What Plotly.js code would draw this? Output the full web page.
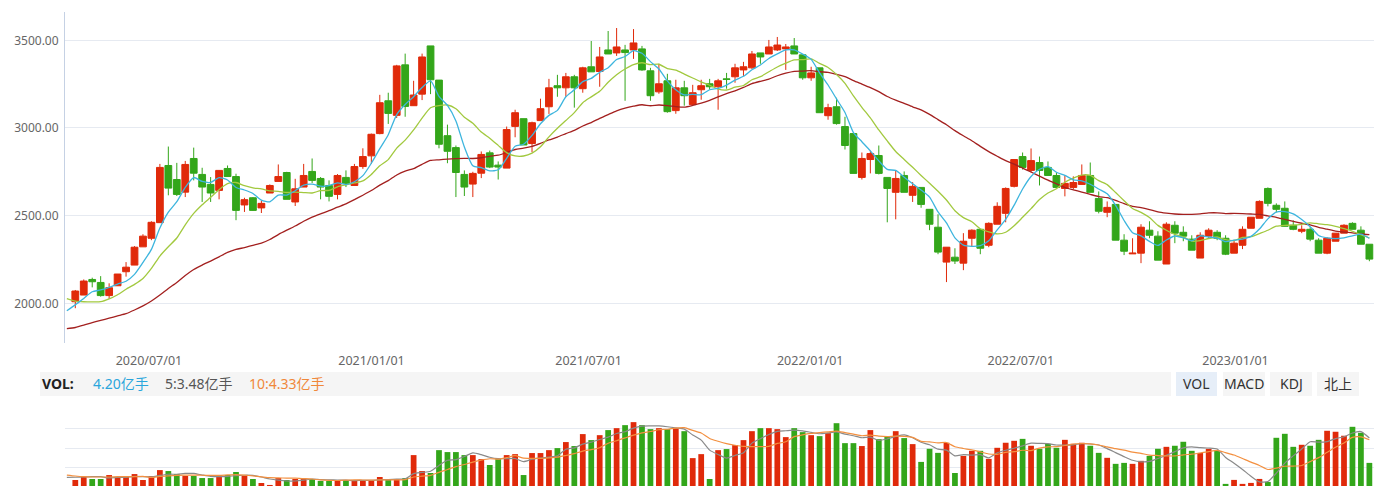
<!DOCTYPE html>
<html><head><meta charset="utf-8">
<script src="https://cdn.plot.ly/plotly-3.0.1.min.js"></script>
<style>html,body{margin:0;padding:0;background:#fff;overflow:hidden}#chart{width:1383px;height:486px}</style>
</head><body><div id="chart"></div>
<script>
// ---- data (weekly candles) ----
const openP = [2009,2047,2136,2119,2044,2100,2180,2218,2322,2371,2460,2786,2706,2634,2826,2735,2678,2644,2769,2723,2561,2602,2544,2629,2695,2746,2578,2663,2752,2712,2672,2621,2718,2672,2780,2841,2968,3155,3072,3360,3127,3193,3468,3273,2956,2888,
2735,2680,2742,2858,2788,2771,3009,3053,2911,3042,3121,3241,3229,3292,3224,3349,3322,3445,3428,3445,3445,3451,3326,3206,3269,3099,3229,3133,3218,3252,3235,3280,3292,3331,3343,3428,3422,3445,3451,3468,3417,3286,3343,3070,3121,3008,2968,2718,2820,2843,2718,2633,2729,2616,
2661,2536,2434,2235,2263,2229,2371,2422,2331,2451,2513,2667,2837,2758,2803,2775,2729,2655,2661,2678,2729,2598,2519,2564,2360,2282,2286,2417,2383,2224,2445,2405,2366,2258,2383,2405,2371,2286,2331,2428,2485,2655,2559,2542,2445,2411,2422,2360,2286,2354,2400,2456,2417,2337];
const highP = [2076,2136,2146,2155,2114,2167,2235,2326,2394,2468,2795,2894,2801,2812,2888,2773,2720,2758,2786,2739,2602,2606,2587,2678,2792,2750,2710,2795,2826,2720,2701,2737,2758,2795,2884,2968,3189,3201,3360,3424,3269,3424,3468,3273,3019,2900,
2758,2750,2866,2871,2809,3008,3104,3053,3036,3167,3280,3303,3314,3303,3349,3496,3462,3553,3570,3474,3564,3468,3343,3366,3309,3275,3269,3246,3275,3280,3280,3314,3366,3377,3439,3428,3502,3519,3479,3513,3417,3349,3343,3138,3172,3064,2968,2860,2871,2900,2718,2758,2752,2691,
2661,2536,2508,2320,2314,2400,2422,2422,2462,2576,2661,2820,2860,2883,2837,2809,2746,2729,2724,2792,2803,2638,2581,2564,2394,2371,2451,2468,2411,2462,2468,2439,2388,2405,2428,2417,2388,2360,2439,2491,2587,2661,2570,2581,2473,2445,2434,2371,2377,2400,2451,2462,2439,2337];
const lowP = [1972,2047,2091,2038,2025,2100,2152,2218,2322,2360,2460,2616,2612,2606,2701,2578,2578,2593,2723,2474,2521,2527,2515,2629,2695,2593,2555,2663,2686,2593,2581,2593,2663,2672,2767,2795,2964,3023,3057,3064,3127,3159,3193,2884,2799,2606,
2612,2606,2714,2771,2706,2771,2947,2903,2862,3042,3080,3178,3178,3116,3201,3320,3235,3422,3411,3155,3394,3326,3155,3195,3087,3081,3127,3133,3161,3218,3104,3224,3258,3297,3337,3366,3422,3439,3331,3422,3275,3269,3087,3047,3019,2877,2741,2706,2741,2735,2462,2479,2633,2578,
2545,2417,2280,2121,2224,2189,2326,2280,2320,2451,2462,2661,2763,2746,2672,2729,2661,2610,2650,2678,2633,2513,2491,2360,2275,2282,2229,2371,2246,2224,2343,2354,2303,2258,2371,2360,2275,2286,2309,2428,2485,2553,2519,2439,2417,2400,2354,2286,2280,2354,2400,2422,2337,2240];
const closeP = [2070,2127,2123,2044,2089,2167,2206,2320,2383,2462,2775,2657,2621,2792,2742,2663,2629,2758,2723,2530,2591,2530,2570,2672,2723,2593,2653,2729,2701,2663,2610,2729,2684,2780,2837,2964,3144,3083,3354,3123,3188,3405,3275,2907,2867,2746,
2663,2741,2849,2777,2777,2991,3087,2903,3030,3110,3229,3229,3292,3229,3343,3320,3405,3422,3462,3430,3485,3331,3184,3252,3093,3229,3184,3201,3241,3235,3269,3277,3343,3349,3422,3405,3462,3473,3462,3422,3286,3314,3087,3116,3025,2900,2741,2826,2854,2741,2655,2712,2633,2667,
2564,2451,2292,2320,2241,2354,2417,2314,2456,2553,2655,2820,2775,2814,2758,2729,2661,2684,2689,2729,2633,2525,2547,2360,2297,2286,2434,2388,2246,2451,2400,2383,2303,2388,2417,2371,2280,2343,2422,2491,2581,2570,2536,2439,2422,2422,2366,2286,2371,2400,2445,2422,2337,2252];
// volume, 亿手
const volume = [0.72,1.03,0.82,0.82,1.23,1.03,1.03,1.33,0.72,1.13,1.74,1.64,1.33,1.13,1.13,0.92,0.92,1.23,1.23,1.54,1.13,0.82,0.41,0.21,0.92,0.72,0.82,0.82,0.82,0.62,0.62,0.72,0.72,0.62,0.72,0.62,1.03,0.82,0.82,0.92,3.28,1.64,1.44,3.79,3.59,3.59,
3.28,3.28,2.87,2.26,2.87,3.28,3.38,1.23,3.49,3.49,3.79,4.0,4.62,4.21,5.44,4.82,5.33,5.85,6.05,6.36,6.67,6.36,5.95,6.05,5.95,6.05,5.74,2.97,3.38,0.82,3.79,3.90,4.31,4.82,5.74,6.05,6.05,5.95,5.13,6.05,5.64,5.33,5.23,5.54,6.56,4.51,4.51,4.21,5.85,4.92,5.23,5.74,5.03,4.41,
2.58,3.93,3.51,4.55,1.44,3.2,3.72,3.72,2.89,4.03,4.55,4.75,4.95,4.24,3.93,4.44,4.03,4.85,4.44,4.55,4.24,3.51,3.0,2.38,2.48,2.38,2.69,3.2,3.93,4.13,4.24,4.65,3.72,3.51,3.93,3.72,0.32,0.73,0.32,0.42,0.83,0.52,5.06,5.47,4.13,4.34,4.24,4.85,5.78,5.68,5.27,6.19,5.58,2.48];
// moving-average values before enough history exists, starting one week before the first candle
const ma5Lead = [1958,1991,2028,2066,2076];
const ma10Lead = [2027,2013,2009,2008,2009,2025,2049,2080,2108,2142];
const ma30Lead = [1856,1862,1875,1890,1903,1915,1928,1941,1962,1985,2013,2047,2085,2119,2159,2193,2218,2241,2265,2290,2307,2318,2331,2343,2364,2392,2417,2441,2468,2491];
const volMa5Lead = [0.99,1.0,1.03,1.06,1.06];
const volMa10Lead = [1.23,1.13,1.06,1.03,1.03,1.03,1.06,1.06,1.06,1.09];
const tickLabels = ['2020/07/01','2021/01/01','2021/07/01','2022/01/01','2022/07/01','2023/01/01'];
const legendTexts = ['4.20亿手','5:3.48亿手','10:4.33亿手'];
const buttonLabels = ['VOL','MACD','KDJ','北上'];

// ---- helpers ----
const idx = closeP.map((_, i) => i);
function movingAvg(src, n, lead) {
  const xs = [], ys = [];
  lead.forEach((v, k) => { xs.push(k - 1); ys.push(v); });
  for (let i = n - 1; i < src.length; i++) {
    let s = 0; for (let j = i - n + 1; j <= i; j++) s += src[j];
    xs.push(i); ys.push(s / n);
  }
  return { xs, ys };
}
const RED = '#e02a0a', GREEN = '#33a61a';
const ma5 = movingAvg(closeP, 5, ma5Lead), ma10 = movingAvg(closeP, 10, ma10Lead), ma30 = movingAvg(closeP, 30, ma30Lead);
const vma5 = movingAvg(volume, 5, volMa5Lead), vma10 = movingAvg(volume, 10, volMa10Lead);
const volColors = closeP.map((c, i) => c >= openP[i] ? RED : GREEN);

// pixel -> paper helpers (plot area x:65..1374, y:12..486)
const W = 1383, H = 486, ML = 65, MR = 9, MT = 12, MB = 0;
const pw = W - ML - MR, ph = H - MT - MB;
const px = p => (p - ML) / pw;
const py = p => (H - MB - p) / ph;

const lineT = (d, color, yaxis, xaxis, w) => ({
  type: 'scatter', mode: 'lines', x: d.xs, y: d.ys, xaxis: xaxis, yaxis: yaxis,
  line: { color: color, width: w, shape: 'spline', smoothing: 0.6 }, hoverinfo: 'skip'
});

const traces = [
  lineT(ma30, '#a3201f', 'y', 'x', 1.3),
  lineT(ma10, '#a2c93f', 'y', 'x', 1.3),
  lineT(ma5, '#3db5de', 'y', 'x', 1.3),
  {
    type: 'candlestick', x: idx, open: openP, high: highP, low: lowP, close: closeP,
    xaxis: 'x', yaxis: 'y', whiskerwidth: 0,
    increasing: { line: { color: RED, width: 1 }, fillcolor: RED },
    decreasing: { line: { color: GREEN, width: 1 }, fillcolor: GREEN },
    hoverinfo: 'skip'
  },
  {
    type: 'bar', x: idx, y: volume, xaxis: 'x2', yaxis: 'y2', width: 0.68,
    marker: { color: volColors, line: { width: 0 } }, hoverinfo: 'skip'
  },
  lineT(vma5, '#8a8a8a', 'y2', 'x2', 1.2),
  lineT(vma10, '#f39040', 'y2', 'x2', 1.2)
];

const tickPos = [8.71, 35.02, 60.68, 86.89, 111.79, 137.17];
const xr = [(ML - 75.3) / 8.458, (W - MR - 75.3) / 8.458];
const fontFam = '"Noto Sans", "Noto Sans CJK SC", "Liberation Sans", Arial, sans-serif';

const shapes = [
  { type: 'rect', xref: 'paper', yref: 'paper', x0: px(40), x1: px(1171), y0: py(396), y1: py(372), fillcolor: '#f5f5f5', line: { width: 0 } }
];
const btnX = [[1176, 1217], [1223, 1265], [1270, 1312], [1317, 1359]];
btnX.forEach((b, i) => shapes.push({ type: 'rect', xref: 'paper', yref: 'paper', x0: px(b[0]), x1: px(b[1]), y0: py(396), y1: py(372), fillcolor: i === 0 ? '#e6eef8' : '#f5f5f5', line: { width: 0 } }));

const ann = [
  { text: '<b>VOL:</b>', x: px(40), color: '#222' },
  { text: legendTexts[0], x: px(90.5), color: '#2aa6dc' },
  { text: legendTexts[1], x: px(162.5), color: '#555555' },
  { text: legendTexts[2], x: px(246.5), color: '#f0883a' }
].map(a => ({ xref: 'paper', yref: 'paper', x: a.x, y: py(383.5), xanchor: 'left', yanchor: 'middle', showarrow: false, text: a.text, font: { family: fontFam, size: 14, color: a.color } }));
btnX.forEach((b, i) => ann.push({ xref: 'paper', yref: 'paper', x: px((b[0] + b[1]) / 2), y: py(383.5), xanchor: 'center', yanchor: 'middle', showarrow: false, text: buttonLabels[i], font: { family: fontFam, size: 14, color: '#333' } }));

const layout = {
  width: W, height: H, margin: { l: ML, r: MR, t: MT, b: MB }, showlegend: false,
  paper_bgcolor: '#fff', plot_bgcolor: '#fff', dragmode: false,
  xaxis: {
    range: xr, domain: [0, 1], anchor: 'y', rangeslider: { visible: false },
    showgrid: false, zeroline: false, showline: false, ticks: '',
    tickmode: 'array', tickvals: tickPos, ticktext: tickLabels, ticklabelstandoff: 8,
    tickfont: { family: fontFam, size: 12.5, color: '#666' }
  },
  yaxis: {
    domain: [py(343), 1], range: [1773.6, 3661.4], anchor: 'x',
    tick0: 2000, dtick: 500, tickformat: '.2f', ticks: '',
    showgrid: true, gridcolor: '#e6eaf1', gridwidth: 1, zeroline: false,
    showline: true, linecolor: '#c5d1e4', linewidth: 1,
    tickfont: { family: fontFam, size: 12, color: '#666' }, ticklabelstandoff: 3
  },
  xaxis2: { matches: 'x', anchor: 'y2', showticklabels: false, showgrid: false, zeroline: false, showline: false, ticks: '', range: xr, rangeslider: { visible: false } },
  yaxis2: {
    domain: [0, py(409)], range: [0.1026, 8.02], anchor: 'x2', tick0: 0, dtick: 2,
    showticklabels: false, ticks: '', showgrid: true, gridcolor: '#e6eaf1', zeroline: false, showline: false
  },
  bargap: 0.3, boxgap: 0.2, boxgroupgap: 0,
  shapes: shapes, annotations: ann
};

Plotly.newPlot('chart', traces, layout, { displayModeBar: false, staticPlot: true });
</script>
</body></html>
